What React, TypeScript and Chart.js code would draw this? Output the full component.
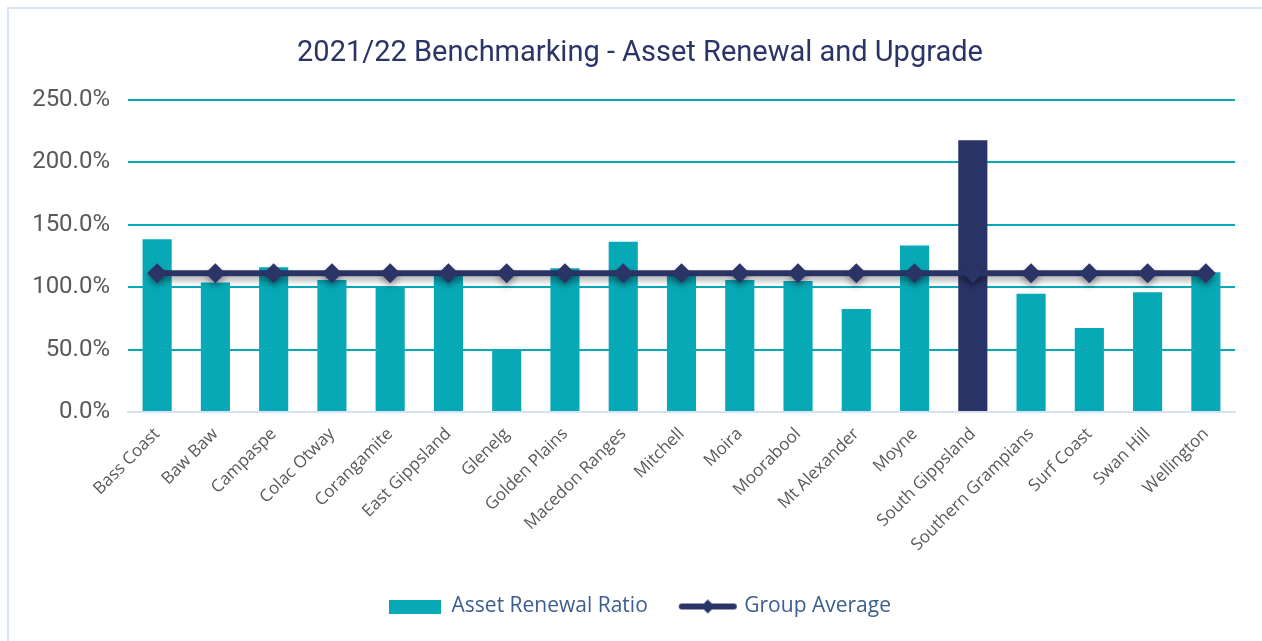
import React, { useEffect, useRef } from "react";
import { Chart, registerables } from "chart.js";

Chart.register(...registerables);

// ---- Data ----
const categories = [
  "Bass Coast",
  "Baw Baw",
  "Campaspe",
  "Colac Otway",
  "Corangamite",
  "East Gippsland",
  "Glenelg",
  "Golden Plains",
  "Macedon Ranges",
  "Mitchell",
  "Moira",
  "Moorabool",
  "Mt Alexander",
  "Moyne",
  "South Gippsland",
  "Southern Grampians",
  "Surf Coast",
  "Swan Hill",
  "Wellington",
];

const assetRenewalRatio = [
  138.3, 103.7, 115.9, 105.8, 99.8, 109.5, 49.4, 115.1, 136.3, 109.0, 105.8,
  105.0, 82.5, 133.3, 217.7, 94.7, 67.2, 95.8, 111.9,
];

const groupAverage = [
  111.1, 111.1, 111.1, 111.1, 111.1, 111.1, 111.1, 111.1, 111.1, 111.1, 111.1,
  111.1, 111.1, 111.1, 111.1, 111.1, 111.1, 111.1, 111.1,
];

const yTickLabels = ["0.0%", "50.0%", "100.0%", "150.0%", "200.0%", "250.0%"];

const highlightCategory = "South Gippsland";

const TITLE = "2021/22 Benchmarking - Asset Renewal and Upgrade";
const SERIES_BAR = "Asset Renewal Ratio";
const SERIES_LINE = "Group Average";

// ---- Styles ----
const TEAL = "#08A9B7";
const NAVY = "#2B3467";
const TICK_COLOR = "#595959";
const LEGEND_COLOR = "#3B5E8F";
const AXIS_COLOR = "#D6E1F2";

function makeBoxImage(): HTMLCanvasElement {
  const c = document.createElement("canvas");
  c.width = 52;
  c.height = 14;
  const g = c.getContext("2d")!;
  g.fillStyle = TEAL;
  g.fillRect(0, 0, 52, 14);
  return c;
}

function makeLineImage(): HTMLCanvasElement {
  const c = document.createElement("canvas");
  c.width = 60;
  c.height = 18;
  const g = c.getContext("2d")!;
  g.strokeStyle = NAVY;
  g.lineWidth = 6;
  g.lineCap = "round";
  g.beginPath();
  g.moveTo(4, 9);
  g.lineTo(56, 9);
  g.stroke();
  g.fillStyle = NAVY;
  g.beginPath();
  g.moveTo(30, 2);
  g.lineTo(37, 9);
  g.lineTo(30, 16);
  g.lineTo(23, 9);
  g.closePath();
  g.fill();
  return c;
}

const shadowPlugin = {
  id: "lineShadow",
  beforeDatasetDraw(chart: any, args: any) {
    if (args.index === 1) {
      const ctx = chart.ctx;
      ctx.save();
      ctx.shadowColor = "rgba(0,0,0,0.35)";
      ctx.shadowBlur = 6;
      ctx.shadowOffsetY = 4;
    }
  },
  afterDatasetDraw(chart: any, args: any) {
    if (args.index === 1) {
      chart.ctx.restore();
    }
  },
};

export default function App() {
  const canvasRef = useRef<HTMLCanvasElement | null>(null);

  useEffect(() => {
    if (!canvasRef.current) return;
    const boxImg = makeBoxImage();
    const lineImg = makeLineImage();

    const chart = new Chart(canvasRef.current, {
      type: "bar",
      data: {
        labels: categories,
        datasets: [
          {
            type: "bar",
            label: SERIES_BAR,
            data: assetRenewalRatio,
            backgroundColor: categories.map((c) =>
              c === highlightCategory ? NAVY : TEAL
            ),
            borderWidth: 0,
            barPercentage: 0.5,
            categoryPercentage: 1,
            order: 2,
          } as any,
          {
            type: "line",
            label: SERIES_LINE,
            data: groupAverage,
            borderColor: NAVY,
            backgroundColor: NAVY,
            borderWidth: 6,
            pointStyle: "rectRot",
            pointRadius: 10,
            pointBackgroundColor: NAVY,
            pointBorderColor: NAVY,
            pointBorderWidth: 0,
            tension: 0,
            order: 1,
          } as any,
        ],
      },
      options: {
        responsive: false,
        animation: false,
        layout: { padding: { left: 9, right: 0, top: 0, bottom: 14 } },
        plugins: {
          title: {
            display: true,
            text: TITLE,
            color: NAVY,
            font: { family: "Roboto", size: 29, weight: "normal" },
            padding: { top: 27, bottom: 29 },
          },
          legend: {
            display: true,
            position: "bottom",
            labels: {
              usePointStyle: true,
              pointStyleWidth: 52,
              boxHeight: 14,
              padding: 34,
              color: LEGEND_COLOR,
              font: { family: "Open Sans", size: 21 },
              generateLabels: () => [
                {
                  text: SERIES_BAR,
                  pointStyle: boxImg as any,
                  fillStyle: TEAL,
                  strokeStyle: TEAL,
                  lineWidth: 0,
                  hidden: false,
                  datasetIndex: 0,
                  fontColor: LEGEND_COLOR,
                },
                {
                  text: SERIES_LINE,
                  pointStyle: lineImg as any,
                  fillStyle: NAVY,
                  strokeStyle: NAVY,
                  lineWidth: 0,
                  hidden: false,
                  datasetIndex: 1,
                  fontColor: LEGEND_COLOR,
                },
              ],
            },
          },
          tooltip: { enabled: false },
        },
        scales: {
          x: {
            grid: { display: false },
            border: { display: true, color: AXIS_COLOR, width: 2 },
            ticks: {
              color: TICK_COLOR,
              font: { family: "Open Sans", size: 17 },
              minRotation: 45,
              maxRotation: 45,
              autoSkip: false,
              padding: 4,
            },
            afterFit: (scale: any) => {
              scale.height = 150;
            },
          },
          y: {
            min: 0,
            max: 250,
            ticks: {
              stepSize: 50,
              color: TICK_COLOR,
              font: { family: "Roboto", size: 24 },
              padding: 18,
              callback: (_v: any, i: number) => yTickLabels[i],
            },
            grid: {
              color: (ctx: any) =>
                ctx.tick && ctx.tick.value === 0 ? "rgba(0,0,0,0)" : TEAL,
              lineWidth: 2,
              drawTicks: false,
            },
            border: { display: false },
            afterFit: (scale: any) => {
              scale.width = 110;
            },
          },
          yRightSpace: {
            position: "right",
            display: true,
            min: 0,
            max: 250,
            grid: { display: false, drawTicks: false },
            border: { display: false },
            ticks: { display: false },
            afterFit: (scale: any) => {
              scale.width = 27;
            },
          },
        },
      } as any,
      plugins: [shadowPlugin],
    });

    return () => chart.destroy();
  }, []);

  return (
    <div
      style={{
        position: "fixed",
        left: 7,
        top: 7,
        width: 1253,
        height: 632,
        borderLeft: "2px solid #DAE5F3",
        borderTop: "2px solid #DAE5F3",
        background: "#fff",
      }}
    >
      <canvas
        ref={canvasRef}
        width={1253}
        height={632}
        style={{ display: "block" }}
      />
    </div>
  );
}
